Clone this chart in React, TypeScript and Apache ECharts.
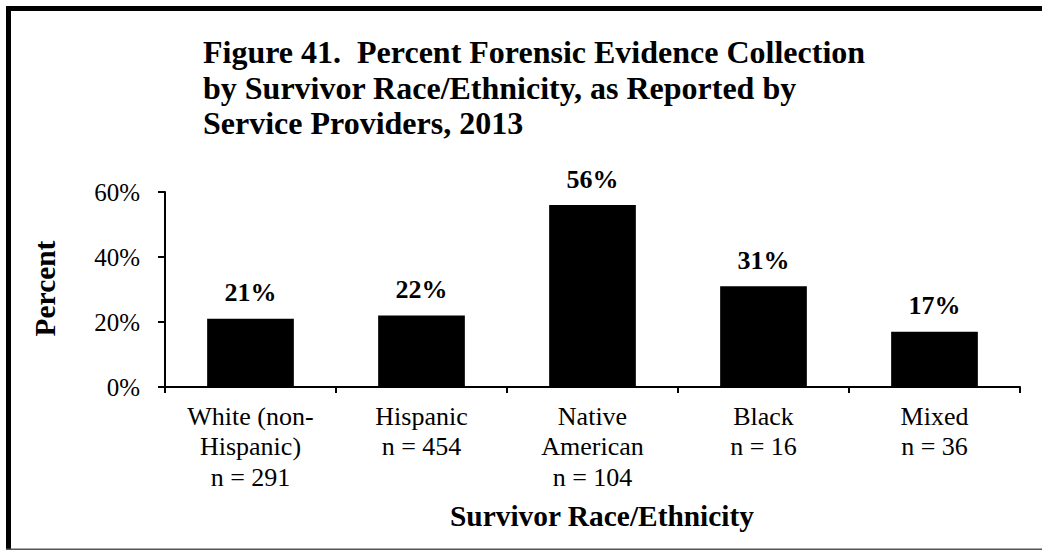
import React, { useEffect, useRef } from "react";
import * as echarts from "echarts";

const categories = ["White (non-\nHispanic)", "Hispanic", "Native\nAmerican", "Black", "Mixed"];
const sampleSizes = [291, 454, 104, 16, 36];
const percentValues = [21, 22, 56, 31, 17];
const yTicks = [0, 20, 40, 60];
const titleText = "Figure 41.  Percent Forensic Evidence Collection\nby Survivor Race/Ethnicity, as Reported by\nService Providers, 2013";
const xAxisName = "Survivor Race/Ethnicity";
const yAxisName = "Percent";

const FONT = "Liberation Serif";

export default function App() {
  const ref = useRef<HTMLDivElement>(null);
  useEffect(() => {
    if (!ref.current) return;
    const chart = echarts.init(ref.current, undefined, { renderer: "svg" });
    const labels = categories.map((c, i) => `${c}\nn = ${sampleSizes[i]}`);
    chart.setOption({
      animation: false,
      backgroundColor: "#ffffff",
      textStyle: { fontFamily: FONT },
      title: {
        text: titleText,
        left: 203,
        top: 34.6,
        padding: 0,
        textStyle: {
          fontFamily: FONT,
          fontSize: 32,
          fontWeight: "bold",
          color: "#000",
          lineHeight: 35.3,
        },
      },
      grid: { left: 165, right: 22, top: 192, bottom: 163, containLabel: false },
      xAxis: {
        type: "category",
        data: labels,
        axisLine: { lineStyle: { color: "#000", width: 2 } },
        axisTick: { show: true, length: 6, lineStyle: { color: "#000", width: 2 } },
        axisLabel: {
          interval: 0,
          margin: 14,
          fontFamily: FONT,
          fontSize: 26,
          color: "#000",
          lineHeight: 30.5,
        },
      },
      yAxis: {
        type: "value",
        min: yTicks[0],
        max: yTicks[yTicks.length - 1],
        interval: 20,
        splitLine: { show: false },
        axisLine: { show: true, lineStyle: { color: "#000", width: 2 } },
        axisTick: { show: true, length: 7, lineStyle: { color: "#000", width: 2 } },
        axisLabel: {
          margin: 25,
          fontFamily: FONT,
          fontSize: 25,
          color: "#000",
          formatter: "{value}%",
        },
      },
      series: [
        {
          type: "bar",
          data: percentValues,
          barCategoryGap: "49.3%",
          itemStyle: { color: "#000" },
          label: {
            show: true,
            position: "top",
            distance: 13,
            formatter: "{c}%",
            fontFamily: FONT,
            fontSize: 26,
            fontWeight: "bold",
            color: "#000",
          },
        },
      ],
      graphic: [
        {
          type: "text",
          x: 602,
          y: 516,
          style: {
            text: xAxisName,
            fontFamily: FONT,
            fontSize: 29.4,
            fontWeight: "bold",
            fill: "#000",
            textAlign: "center",
            textVerticalAlign: "middle",
          },
        },
        {
          type: "text",
          x: 45,
          y: 288.5,
          rotation: Math.PI / 2,
          style: {
            text: yAxisName,
            fontFamily: FONT,
            fontSize: 29.4,
            fontWeight: "bold",
            fill: "#000",
            textAlign: "center",
            textVerticalAlign: "middle",
          },
        },
        { type: "rect", shape: { x: 6, y: 6, width: 5, height: 544 }, style: { fill: "#000" } },
        { type: "rect", shape: { x: 6, y: 6, width: 1036, height: 5 }, style: { fill: "#000" } },
        { type: "rect", shape: { x: 6, y: 548.5, width: 1036, height: 1.5 }, style: { fill: "#555" } },
      ],
    });
    return () => chart.dispose();
  }, []);
  return (
    <div
      ref={ref}
      style={{ position: "fixed", left: 0, top: 0, width: 1042, height: 550 }}
    />
  );
}
